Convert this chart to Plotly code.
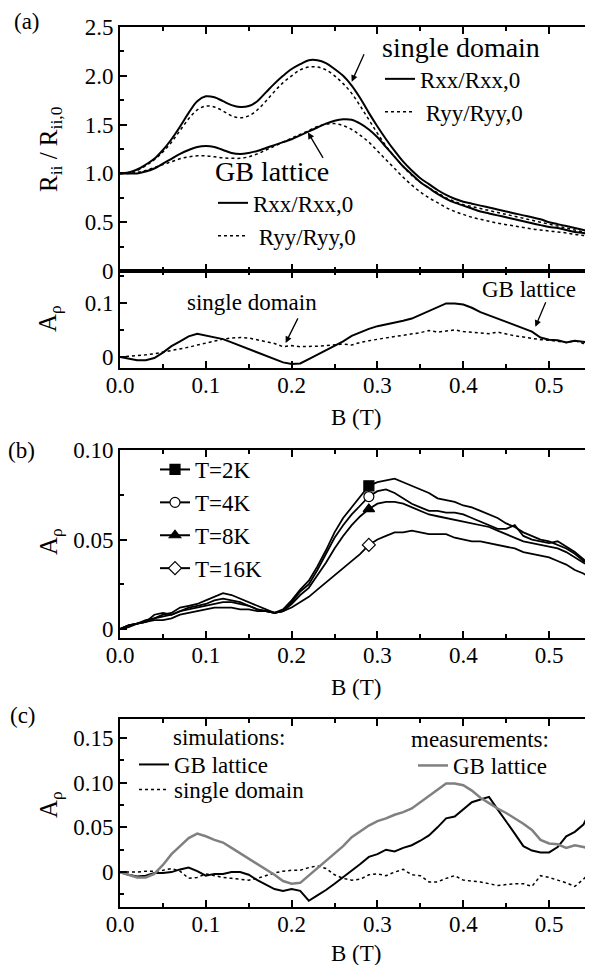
import plotly.graph_objects as go

# ---------------- data ----------------
B = [0.00, 0.01, 0.02, 0.03, 0.04, 0.05, 0.06, 0.07, 0.08, 0.09,
     0.10, 0.11, 0.12, 0.13, 0.14, 0.15, 0.16, 0.17, 0.18, 0.19,
     0.20, 0.21, 0.22, 0.23, 0.24, 0.25, 0.26, 0.27, 0.28, 0.29,
     0.30, 0.31, 0.32, 0.33, 0.34, 0.35, 0.36, 0.37, 0.38, 0.39,
     0.40, 0.41, 0.42, 0.43, 0.44, 0.45, 0.46, 0.47, 0.48, 0.49,
     0.50, 0.51, 0.52, 0.53, 0.54, 0.55]

# panel (a) top: normalised resistances
sd_rxx = [1.00, 1.01, 1.04, 1.09, 1.15, 1.24, 1.35, 1.48, 1.62, 1.74,
          1.79, 1.78, 1.74, 1.70, 1.68, 1.69, 1.74, 1.83, 1.92, 2.00,
          2.07, 2.12, 2.16, 2.16, 2.13, 2.07, 2.00, 1.90, 1.77, 1.62,
          1.48, 1.35, 1.23, 1.12, 1.03, 0.95, 0.89, 0.83, 0.78, 0.74,
          0.71, 0.69, 0.67, 0.65, 0.63, 0.61, 0.59, 0.57, 0.55, 0.53,
          0.50, 0.48, 0.46, 0.44, 0.42, 0.40]
sd_ryy = [1.00, 1.01, 1.03, 1.08, 1.14, 1.22, 1.32, 1.44, 1.56, 1.65,
          1.69, 1.68, 1.64, 1.59, 1.57, 1.59, 1.65, 1.74, 1.84, 1.93,
          2.00, 2.06, 2.09, 2.09, 2.06, 2.00, 1.92, 1.82, 1.69, 1.55,
          1.41, 1.28, 1.17, 1.07, 0.98, 0.91, 0.85, 0.80, 0.75, 0.71,
          0.68, 0.66, 0.64, 0.62, 0.60, 0.58, 0.56, 0.54, 0.52, 0.50,
          0.48, 0.46, 0.44, 0.42, 0.40, 0.38]
gb_rxx = [1.00, 1.00, 1.00, 1.02, 1.05, 1.10, 1.15, 1.20, 1.24, 1.27,
          1.28, 1.27, 1.24, 1.21, 1.20, 1.21, 1.23, 1.26, 1.29, 1.32,
          1.35, 1.39, 1.43, 1.47, 1.51, 1.54, 1.555, 1.55, 1.51, 1.45,
          1.37, 1.27, 1.17, 1.07, 0.99, 0.91, 0.85, 0.79, 0.74, 0.70,
          0.67, 0.64, 0.61, 0.59, 0.57, 0.55, 0.53, 0.51, 0.49, 0.47,
          0.45, 0.44, 0.42, 0.40, 0.39, 0.37]
gb_ryy = [1.00, 1.00, 1.01, 1.03, 1.06, 1.09, 1.12, 1.15, 1.17, 1.18,
          1.18, 1.17, 1.16, 1.155, 1.155, 1.17, 1.20, 1.24, 1.28, 1.32,
          1.36, 1.40, 1.44, 1.48, 1.505, 1.51, 1.49, 1.45, 1.39, 1.32,
          1.23, 1.14, 1.05, 0.96, 0.88, 0.81, 0.75, 0.70, 0.65, 0.61,
          0.58, 0.55, 0.53, 0.51, 0.49, 0.475, 0.46, 0.445, 0.43, 0.42,
          0.41, 0.40, 0.39, 0.375, 0.365, 0.355]

# panel (a) bottom / (c): measured anisotropy
gb_meas = [0.000, -0.003, -0.006, -0.006, -0.002, 0.008, 0.020, 0.029, 0.038, 0.043,
           0.040, 0.036, 0.033, 0.027, 0.021, 0.015, 0.009, 0.003, -0.003, -0.010,
           -0.013, -0.012, -0.004, 0.004, 0.012, 0.020, 0.029, 0.039, 0.046, 0.052,
           0.057, 0.060, 0.064, 0.067, 0.071, 0.078, 0.085, 0.093, 0.099, 0.099,
           0.097, 0.091, 0.083, 0.077, 0.071, 0.066, 0.060, 0.054, 0.047, 0.036,
           0.032, 0.031, 0.027, 0.030, 0.028, 0.026]
sd_meas = [0.000, 0.001, 0.003, 0.004, 0.006, 0.009, 0.011, 0.015, 0.018, 0.022,
           0.026, 0.030, 0.033, 0.035, 0.036, 0.035, 0.032, 0.029, 0.025, 0.019,
           0.021, 0.019, 0.019, 0.020, 0.021, 0.022, 0.024, 0.022, 0.027, 0.030,
           0.033, 0.036, 0.038, 0.040, 0.042, 0.045, 0.049, 0.046, 0.048, 0.050,
           0.047, 0.046, 0.044, 0.043, 0.046, 0.042, 0.039, 0.037, 0.034, 0.032,
           0.031, 0.029, 0.027, 0.030, 0.025, 0.024]

# panel (b): temperature dependence
t2 = [0.000, 0.002, 0.003, 0.005, 0.006, 0.008, 0.009, 0.012, 0.013, 0.014,
      0.016, 0.018, 0.020, 0.019, 0.017, 0.015, 0.013, 0.011, 0.009, 0.011,
      0.016, 0.022, 0.027, 0.035, 0.044, 0.054, 0.062, 0.068, 0.074, 0.080,
      0.082, 0.083, 0.084, 0.082, 0.080, 0.078, 0.076, 0.073, 0.072, 0.071,
      0.069, 0.068, 0.066, 0.064, 0.062, 0.059, 0.057, 0.054, 0.052, 0.050,
      0.049, 0.047, 0.045, 0.042, 0.038, 0.036]
t4 = [0.000, 0.002, 0.003, 0.004, 0.008, 0.009, 0.008, 0.010, 0.012, 0.013,
      0.014, 0.016, 0.017, 0.016, 0.015, 0.013, 0.011, 0.010, 0.009, 0.010,
      0.015, 0.021, 0.025, 0.033, 0.042, 0.051, 0.058, 0.064, 0.069, 0.074,
      0.077, 0.078, 0.076, 0.073, 0.070, 0.068, 0.066, 0.066, 0.065, 0.065,
      0.064, 0.062, 0.060, 0.058, 0.056, 0.056, 0.058, 0.052, 0.050, 0.049,
      0.048, 0.049, 0.046, 0.043, 0.039, 0.034]
t8 = [0.000, 0.001, 0.003, 0.004, 0.006, 0.007, 0.008, 0.010, 0.011, 0.012,
      0.013, 0.014, 0.015, 0.015, 0.014, 0.013, 0.011, 0.010, 0.009, 0.010,
      0.014, 0.019, 0.023, 0.030, 0.037, 0.045, 0.052, 0.058, 0.063, 0.067,
      0.070, 0.071, 0.071, 0.070, 0.068, 0.066, 0.064, 0.063, 0.062, 0.061,
      0.060, 0.059, 0.058, 0.057, 0.055, 0.053, 0.051, 0.049, 0.048, 0.047,
      0.046, 0.045, 0.043, 0.040, 0.037, 0.035]
t16 = [0.000, 0.002, 0.003, 0.004, 0.005, 0.005, 0.006, 0.008, 0.009, 0.010,
       0.011, 0.012, 0.012, 0.012, 0.011, 0.011, 0.010, 0.010, 0.009, 0.010,
       0.012, 0.015, 0.018, 0.022, 0.026, 0.030, 0.034, 0.038, 0.042, 0.047,
       0.050, 0.052, 0.054, 0.054, 0.055, 0.054, 0.053, 0.053, 0.053, 0.051,
       0.050, 0.049, 0.049, 0.048, 0.047, 0.046, 0.045, 0.043, 0.042, 0.041,
       0.040, 0.038, 0.036, 0.033, 0.031, 0.028]
temp_names = ["T=2K", "T=4K", "T=8K", "T=16K"]
temp_symbols = ["square", "circle", "triangle-up", "diamond"]
temp_fills = ["black", "white", "black", "white"]
marker_index = 29  # B = 0.29 T

# panel (c): simulations
sim_gb = [0.000, -0.003, -0.005, -0.004, -0.001, -0.001, 0.000, 0.003, 0.005, 0.001,
          -0.004, -0.002, -0.002, 0.000, 0.000, -0.003, -0.009, -0.014, -0.019, -0.021,
          -0.019, -0.021, -0.032, -0.026, -0.020, -0.013, -0.006, 0.001, 0.009, 0.017,
          0.020, 0.025, 0.023, 0.027, 0.030, 0.035, 0.041, 0.050, 0.060, 0.062,
          0.070, 0.078, 0.081, 0.084, 0.070, 0.057, 0.043, 0.029, 0.024, 0.022,
          0.022, 0.028, 0.040, 0.045, 0.053, 0.072]
sim_sd = [0.000, 0.000, 0.000, 0.001, 0.001, 0.002, 0.004, 0.001, -0.007, -0.006,
          -0.002, -0.004, -0.006, -0.007, -0.008, -0.009, -0.007, -0.004, -0.001, 0.001,
          0.002, 0.002, 0.005, 0.007, 0.004, -0.003, -0.007, -0.009, -0.008, -0.003,
          -0.002, -0.004, 0.000, 0.003, -0.003, -0.004, -0.011, -0.011, -0.007, -0.004,
          -0.009, -0.010, -0.011, -0.013, -0.015, -0.014, -0.013, -0.013, -0.016, -0.004,
          -0.006, -0.009, -0.012, -0.016, -0.008, 0.002]

FONT = "'Liberation Serif', Tinos, 'Times New Roman', 'DejaVu Serif', serif"
FS = 23
OFF = 8                      # page body margin of the html page
W, H = 593 - OFF, 965 - OFF  # figure size
L, R = 120, 592              # plot area, page pixels


def px(xp):
    return (xp - L) / (R - L)


def py(yp):
    return 1 - (yp - OFF) / H


fig = go.Figure()

# (a) top
fig.add_trace(go.Scatter(x=B, y=sd_rxx, mode="lines", name="Rxx/Rxx,0", line=dict(color="black", width=2, shape="spline"),
                         xaxis="x", yaxis="y", legend="legend"))
fig.add_trace(go.Scatter(x=B, y=sd_ryy, mode="lines", name=" Ryy/Ryy,0", line=dict(color="black", width=1.5, dash="dot", shape="spline"),
                         xaxis="x", yaxis="y", legend="legend"))
fig.add_trace(go.Scatter(x=B, y=gb_rxx, mode="lines", name="Rxx/Rxx,0", line=dict(color="black", width=2, shape="spline"),
                         xaxis="x", yaxis="y", legend="legend2"))
fig.add_trace(go.Scatter(x=B, y=gb_ryy, mode="lines", name=" Ryy/Ryy,0", line=dict(color="black", width=1.5, dash="dot", shape="spline"),
                         xaxis="x", yaxis="y", legend="legend2"))

# (a) bottom
fig.add_trace(go.Scatter(x=B, y=gb_meas, mode="lines", line=dict(color="black", width=2), showlegend=False,
                         xaxis="x2", yaxis="y2"))
fig.add_trace(go.Scatter(x=B, y=sd_meas, mode="lines", line=dict(color="black", width=1.5, dash="dot"), showlegend=False,
                         xaxis="x2", yaxis="y2"))

# (b)
for vals in [t2, t4, t8, t16]:
    fig.add_trace(go.Scatter(x=B, y=vals, mode="lines", line=dict(color="black", width=1.8), showlegend=False,
                             xaxis="x3", yaxis="y3"))
for vals, nm, sym, fc in zip([t2, t4, t8, t16], temp_names, temp_symbols, temp_fills):
    fig.add_trace(go.Scatter(x=[B[marker_index]], y=[vals[marker_index]], mode="lines+markers", name=nm,
                             line=dict(color="black", width=2),
                             marker=dict(symbol=sym, size=10, color=fc, line=dict(color="black", width=1.2)),
                             xaxis="x3", yaxis="y3", legend="legend3"))

# (c)
fig.add_trace(go.Scatter(x=B, y=sim_gb, mode="lines", name="GB lattice", line=dict(color="black", width=2),
                         xaxis="x4", yaxis="y4", legend="legend4"))
fig.add_trace(go.Scatter(x=B, y=sim_sd, mode="lines", name="single domain", line=dict(color="black", width=1.5, dash="dot"),
                         xaxis="x4", yaxis="y4", legend="legend5"))
fig.add_trace(go.Scatter(x=B, y=gb_meas, mode="lines", name="GB lattice", line=dict(color="#808080", width=2.5),
                         xaxis="x4", yaxis="y4", legend="legend6"))


def xax(anchor, show):
    return dict(domain=[0, 1], anchor=anchor, range=[0, 0.55], dtick=0.1, tick0=0, tickformat=".1f",
                showticklabels=show, ticks="inside", ticklen=7, tickwidth=1.5, tickcolor="black",
                minor=dict(ticks="inside", ticklen=4, tickwidth=1.5, dtick=0.05, tick0=0, tickcolor="black"),
                showline=True, linewidth=2, linecolor="black", mirror="ticks", showgrid=False, zeroline=False,
                ticklabelstandoff=-5,
                tickfont=dict(family=FONT, size=FS, color="black"))


def yax(anchor, dom, rng, tv, tt, mdt):
    return dict(domain=dom, anchor=anchor, range=rng, tickvals=tv, ticktext=tt,
                ticks="inside", ticklen=7, tickwidth=1.5, tickcolor="black",
                minor=dict(ticks="inside", ticklen=4, tickwidth=1.5, dtick=mdt, tick0=0, tickcolor="black"),
                showline=True, linewidth=2, linecolor="black", mirror="ticks", showgrid=False, zeroline=False,
                ticklabelstandoff=0,
                tickfont=dict(family=FONT, size=FS, color="black"))


leg_common = dict(bgcolor="rgba(0,0,0,0)", borderwidth=0, font=dict(family=FONT, size=FS, color="black"),
                  xanchor="left", yanchor="top", tracegroupgap=0, itemwidth=30)

fig.update_layout(
    width=W, height=H, margin=dict(l=L - OFF, r=W + OFF - R, t=0, b=0, autoexpand=False),
    paper_bgcolor="white", plot_bgcolor="white",
    font=dict(family=FONT, size=FS, color="black"),
    xaxis=xax("y", False),
    yaxis=yax("x", [py(271), py(27)], [0, 2.5], [0, 0.5, 1.0, 1.5, 2.0, 2.5], ["0", "0.5", "1.0", "1.5", "2.0", "2.5"], 0.25),
    xaxis2=xax("y2", True),
    yaxis2=yax("x2", [py(368), py(271)], [-0.0204, 0.159], [0, 0.1], ["0", "0.1"], 0.05),
    xaxis3=xax("y3", True),
    yaxis3=yax("x3", [py(638), py(450)], [-0.005, 0.10], [0, 0.05, 0.10], ["0", "0.05", "0.10"], 0.025),
    xaxis4=xax("y4", True),
    yaxis4=yax("x4", [py(907), py(719)], [-0.039, 0.171], [0, 0.05, 0.10, 0.15], ["0", "0.05", "0.10", "0.15"], 0.025),
    legend=dict(**leg_common, x=px(380), y=py(21), title=dict(text="single domain", side="top")),
    legend2=dict(**leg_common, x=px(213), y=py(145), title=dict(text="GB lattice", side="top")),
    legend3=dict(**leg_common, x=px(155), y=py(448)),
    legend4=dict(**leg_common, x=px(134), y=py(743)),
    legend5=dict(**leg_common, x=px(134), y=py(768)),
    legend6=dict(**leg_common, x=px(413), y=py(744)),
)

ann = []
# panel letters
for t, xp, yp in [("(a)", 27, 21), ("(b)", 21, 450), ("(c)", 23, 715)]:
    ann.append(dict(text=t, x=px(xp), y=py(yp), xref="paper", yref="paper", showarrow=False,
                    xanchor="center", yanchor="middle", font=dict(family=FONT, size=FS)))
# x titles
for yp in [417, 687, 953]:
    ann.append(dict(text="B (T)", x=0.5, y=py(yp), xref="paper", yref="paper", showarrow=False,
                    xanchor="center", yanchor="middle", font=dict(family=FONT, size=FS)))
# y titles
ann.append(dict(text="R<sub>ii</sub> / R<sub>ii,0</sub>", x=px(50), y=py(149), xref="paper", yref="paper",
                showarrow=False, textangle=-90, xanchor="center", yanchor="middle", font=dict(family=FONT, size=25)))
for yp in [319, 542, 805]:
    ann.append(dict(text="A<sub>ρ</sub>", x=px(50), y=py(yp), xref="paper", yref="paper",
                    showarrow=False, textangle=-90, xanchor="center", yanchor="middle", font=dict(family=FONT, size=25)))
# legend headings in (c)
ann.append(dict(text="simulations:", x=px(229), y=py(737), xref="paper", yref="paper", showarrow=False,
                xanchor="center", yanchor="middle", font=dict(family=FONT, size=FS)))
ann.append(dict(text="measurements:", x=px(409), y=py(739), xref="paper", yref="paper", showarrow=False,
                xanchor="left", yanchor="middle", font=dict(family=FONT, size=FS)))
# in-panel labels (a) bottom
ann.append(dict(text="single domain", x=0.154, y=0.101, xref="x2", yref="y2", showarrow=False,
                font=dict(family=FONT, size=FS)))
ann.append(dict(text="GB lattice", x=0.477, y=0.124, xref="x2", yref="y2", showarrow=False,
                font=dict(family=FONT, size=FS)))
# arrows
arrow = dict(text="", showarrow=True, arrowhead=2, arrowsize=1, arrowwidth=1.3, arrowcolor="black", standoff=0)
ann.append(dict(**arrow, x=0.270, y=1.94, xref="x", yref="y", ax=13, ay=-29))
ann.append(dict(**arrow, x=0.219, y=1.42, xref="x", yref="y", ax=16, ay=27))
ann.append(dict(**arrow, x=0.193, y=0.026, xref="x2", yref="y2", ax=13, ay=-26))
ann.append(dict(**arrow, x=0.484, y=0.056, xref="x2", yref="y2", ax=11, ay=-26))
fig.update_layout(annotations=ann)

fig.write_html("out.html")
